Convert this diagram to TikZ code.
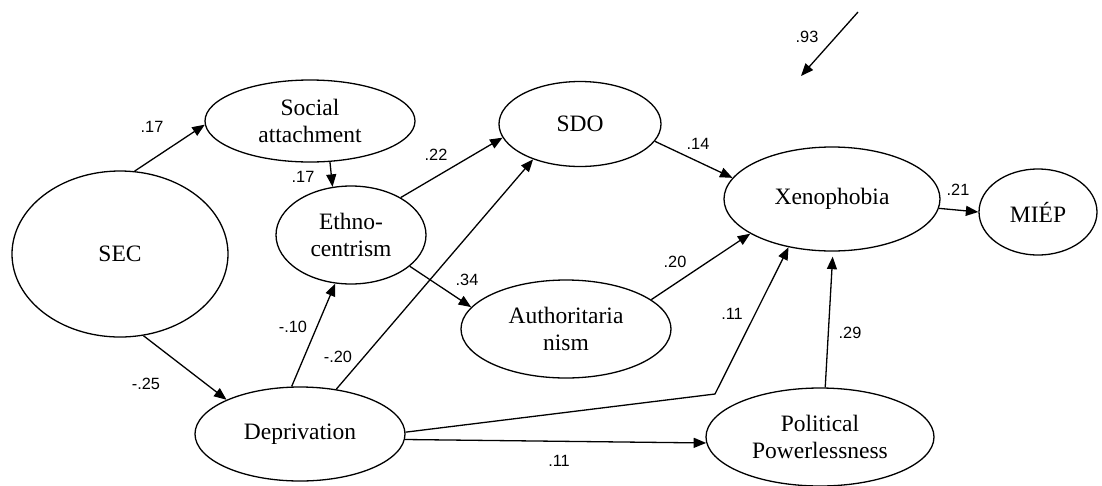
\documentclass[tikz,border=0pt]{standalone}
\usepackage{fontspec}
\setmainfont{Liberation Serif}
\newfontfamily\labfont{Liberation Sans}
\usetikzlibrary{shapes.geometric,arrows.meta}

\begin{document}
\begin{tikzpicture}[x=1pt,y=-1pt,
  latent/.style={ellipse,draw,line width=1.3pt,inner sep=0pt,align=center,
    font=\fontsize{23.5}{27}\selectfont},
  path/.style={line width=1.3pt,-{Triangle[length=12.5pt,width=10pt]}},
  coef/.style={font=\labfont\fontsize{16.3}{18}\selectfont,inner sep=0pt}]
\useasboundingbox (0,0) rectangle (1102,485);

% latent variables
\node[latent,minimum width=216pt,minimum height=166pt] (sec) at (120,254) {SEC};
\node[latent,minimum width=210pt,minimum height=82pt] (social) at (310,121) {Social\\attachment};
\node[latent,minimum width=150pt,minimum height=98pt] (ethno) at (351,235) {Ethno-\\centrism};
\node[latent,minimum width=162pt,minimum height=85pt] (sdo) at (580,124) {SDO};
\node[latent,minimum width=210pt,minimum height=98pt] (auth) at (566,329) {Authoritaria\\nism};
\node[latent,minimum width=216pt,minimum height=104pt] (xeno) at (832,199) {Xenophobia};
\node[latent,minimum width=118pt,minimum height=86pt] (miep) at (1038,212) {MIÉP};
\node[latent,minimum width=210pt,minimum height=94pt] (dep) at (300,434) {Deprivation};
\node[latent,minimum width=228pt,minimum height=98pt] (pp) at (820,437) {Political\\Powerlessness};

% residual of Xenophobia
\coordinate (resA) at (858,12);
\coordinate (resB) at (801,76);
\draw[path] (resA) -- (resB);

% structural paths
\draw[path] (sec.80) -- (social.182);
\draw[path] (social.-64) -- (ethno.111);
\draw[path] (sec.-74) -- (dep.155);
\draw[path] (dep.100) -- (ethno.252);
\draw[path] (dep.51) -- (sdo.217);
\draw[path] (ethno.37) -- (sdo.190);
\draw[path] (ethno.-28) -- (auth.167);
\draw[path] (sdo.-13) -- (xeno.168);
\draw[path] (auth.19) -- (xeno.203);
\coordinate (knee) at (715,394);
\draw[path] (dep.1) -- (knee) -- (xeno.228);
\draw[path] (dep.-3) -- (pp.183);
\draw[path,shorten >=5pt] (pp.84) -- (xeno.-89);
\draw[path] (xeno.-5) -- (miep.180);

% path coefficients
\node[coef] (c1) at (152,127) {.17};
\node[coef] (c2) at (303,177) {.17};
\node[coef] (c3) at (146,384) {-.25};
\node[coef] (c4) at (293,327) {-.10};
\node[coef] (c5) at (338,357) {-.20};
\node[coef] (c6) at (436,155) {.22};
\node[coef] (c7) at (467,280) {.34};
\node[coef] (c8) at (698,144) {.14};
\node[coef] (c9) at (675,262) {.20};
\node[coef] (c10) at (732,314) {.11};
\node[coef] (c11) at (559,461) {.11};
\node[coef] (c12) at (850,333) {.29};
\node[coef] (c13) at (958,190) {.21};
\node[coef] (c14) at (807,37) {.93};
\end{tikzpicture}
\end{document}
